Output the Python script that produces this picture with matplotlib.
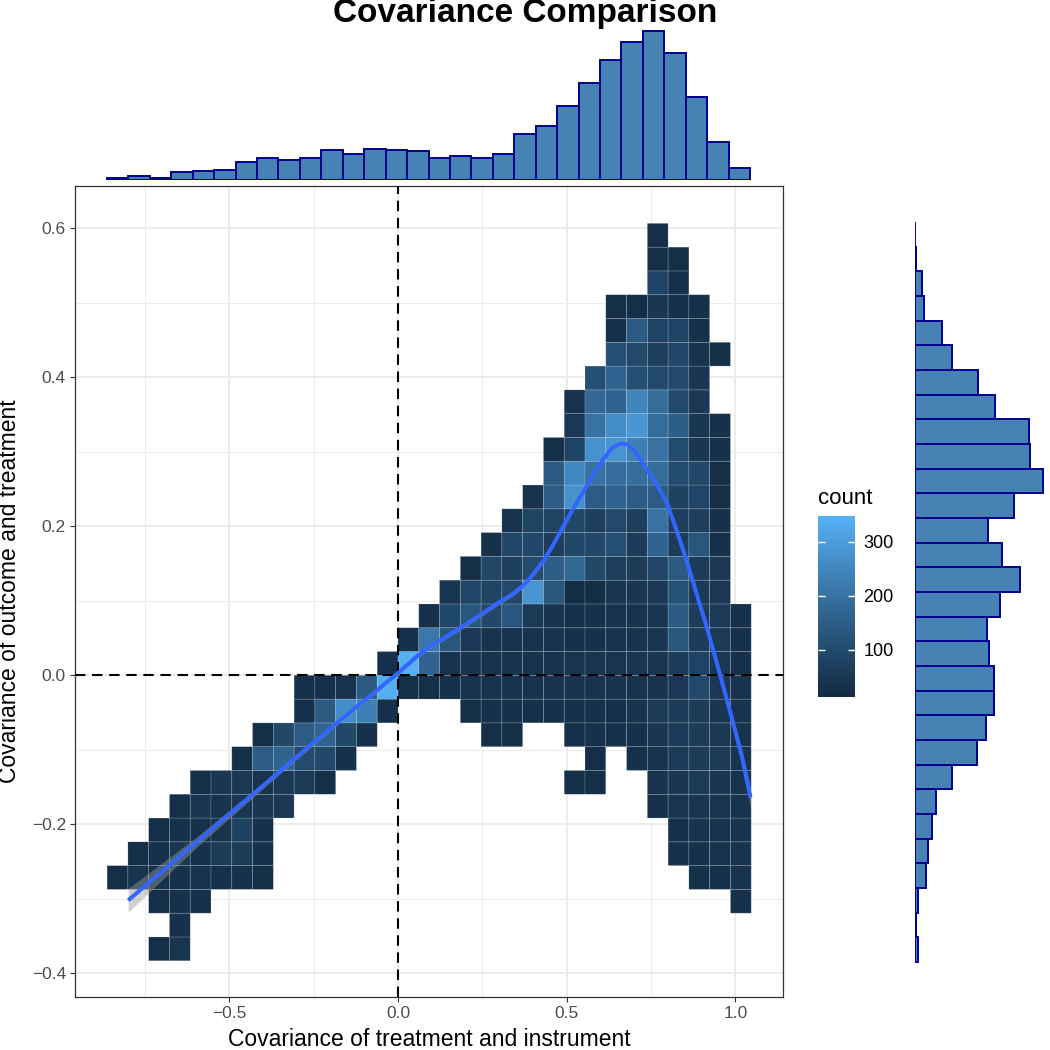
import numpy as np
import matplotlib
matplotlib.use("Agg")
import matplotlib.pyplot as plt
from matplotlib.colors import ListedColormap, Normalize
from matplotlib.cm import ScalarMappable

plt.rcParams['font.family'] = ['Liberation Sans', 'DejaVu Sans']

# ---- data ----
# 2d bins: cell (row j, col i) spans x in [i*bin_w, (i+1)*bin_w], y in [j*bin_h, (j+1)*bin_h]
bin_w = 0.0616
bin_h = 0.03193
col_lo, col_hi = -14, 16
row_lo, row_hi = -12, 18
# (row, first col, counts)
bin_rows = [
    (18, 12, [25]),
    (17, 12, [25, 25]),
    (16, 12, [80, 30]),
    (15, 10, [25, 25, 45, 30, 30]),
    (14, 10, [30, 140, 80, 80, 30]),
    (13, 10, [110, 95, 65, 90, 35, 25]),
    (12, 9, [110, 165, 110, 95, 95, 45]),
    (11, 8, [35, 175, 165, 245, 185, 95, 50]),
    (10, 8, [50, 200, 265, 285, 185, 150, 45, 30]),
    (9, 7, [25, 80, 275, 280, 235, 200, 100, 45, 30]),
    (8, 7, [140, 250, 200, 190, 190, 185, 100, 90, 25]),
    (7, 6, [35, 145, 275, 145, 165, 145, 145, 75, 85, 25]),
    (6, 5, [35, 78, 78, 90, 65, 95, 67, 200, 67, 67, 30]),
    (5, 4, [30, 90, 90, 60, 90, 90, 110, 60, 165, 60, 128, 30]),
    (4, 3, [25, 90, 67, 100, 150, 172, 90, 65, 60, 85, 138, 60, 50]),
    (3, 2, [45, 85, 78, 95, 280, 128, 20, 20, 45, 45, 50, 115, 55, 50]),
    (2, 1, [30, 90, 128, 90, 128, 55, 35, 30, 30, 35, 35, 40, 138, 60, 55, 30]),
    (1, 0, [30, 213, 128, 50, 35, 35, 35, 35, 30, 30, 35, 35, 45, 128, 60, 55, 30]),
    (0, -1, [30, 345, 165, 35, 35, 35, 35, 35, 35, 40, 40, 40, 45, 45, 60, 80, 50, 30]),
    (-1, -5, [30, 30, 35, 138, 340, 25, 25, 30, 35, 35, 35, 35, 35, 35, 35, 35, 35, 35,
              50, 95, 50, 35]),
    (-2, -5, [30, 138, 263, 233, 30]),
    (-2, 3, [25, 30, 30, 30, 30, 30, 30, 30, 35, 55, 60, 60, 45, 35]),
    (-3, -7, [25, 90, 145, 165, 90, 30]),
    (-3, 4, [25, 25]),
    (-3, 8, [25, 30, 30, 30, 45, 55, 60, 50, 35]),
    (-4, -8, [25, 145, 165, 100, 90, 30]),
    (-4, 9, [25]),
    (-4, 11, [30, 35, 55, 60, 55, 35]),
    (-5, -10, [25, 45, 50, 35, 50, 55, 25]),
    (-5, 8, [25, 25]),
    (-5, 12, [35, 45, 55, 45, 35]),
    (-6, -11, [25, 45, 35, 45, 45, 50]),
    (-6, 12, [30, 40, 40, 40, 35]),
    (-7, -12, [25, 30, 30, 35, 75, 30]),
    (-7, 13, [30, 35, 35, 35]),
    (-8, -13, [25, 30, 45, 30, 60, 60, 30]),
    (-8, 13, [30, 30, 35, 35]),
    (-9, -14, [25, 40, 30, 30, 35, 30, 30, 25]),
    (-9, 14, [30, 30, 35]),
    (-10, -12, [25, 30, 30]),
    (-10, 16, [30]),
    (-11, -11, [30]),
    (-12, -12, [25, 40]),
]
count_min, count_max = 12, 348

# smooth fit
smooth_x = [-0.80, -0.60, -0.40, -0.20, -0.10, 0.00, 0.03, 0.06, 0.10, 0.15, 0.20, 0.25,
            0.30, 0.34, 0.37, 0.40, 0.43, 0.46, 0.49, 0.52, 0.55, 0.58, 0.61, 0.635, 0.66,
            0.68, 0.70, 0.72, 0.745, 0.77, 0.797, 0.825, 0.855, 0.885, 0.915, 0.94, 0.965,
            0.99, 1.02, 1.045]
smooth_y = [-0.302, -0.225, -0.148, -0.071, -0.034, 0.003, 0.015, 0.027, 0.040, 0.054,
            0.068, 0.083, 0.098, 0.109, 0.120, 0.135, 0.153, 0.175, 0.200, 0.224, 0.247,
            0.270, 0.291, 0.305, 0.311, 0.310, 0.302, 0.289, 0.272, 0.254, 0.232, 0.196,
            0.155, 0.110, 0.065, 0.025, -0.016, -0.058, -0.110, -0.164]
smooth_se = [0.016, 0.007, 0.004, 0.003, 0.003, 0.003, 0.003, 0.003, 0.003, 0.003,
             0.003, 0.003, 0.003, 0.003, 0.003, 0.003, 0.003, 0.003, 0.003, 0.003,
             0.003, 0.003, 0.003, 0.003, 0.003, 0.003, 0.003, 0.003, 0.003, 0.003,
             0.003, 0.003, 0.003, 0.003, 0.004, 0.004, 0.005, 0.007, 0.010, 0.014]

# marginal histograms (relative counts)
top_range = (-0.863, 1.044)
top_counts = [3, 10, 5, 22, 24, 27, 51, 64, 57, 64, 89, 76, 91, 87, 84, 65, 70, 65, 75,
              137, 159, 219, 288, 356, 411, 443, 377, 245, 113, 33]
right_range = (-0.3848, 0.6085)
right_counts_top_down = [1, 3, 20, 28, 80, 112, 190, 241, 343, 345, 385, 297, 218, 261,
                         316, 256, 215, 222, 236, 236, 212, 186, 112, 62, 50, 38, 34, 10,
                         3, 10]


# ---- ggplot-like gradient (interpolated in Lab) ----
M = np.array([[0.4124, 0.3576, 0.1805], [0.2126, 0.7152, 0.0722], [0.0193, 0.1192, 0.9505]])
WHITE = np.array([0.95047, 1.0, 1.08883])


def hex_to_lab(h):
    rgb = np.array([int(h[k:k + 2], 16) for k in (1, 3, 5)]) / 255
    lin = np.where(rgb <= 0.04045, rgb / 12.92, ((rgb + 0.055) / 1.055) ** 2.4)
    xyz = M @ lin / WHITE
    f = np.where(xyz > 0.008856, np.cbrt(xyz), 7.787 * xyz + 16 / 116)
    return np.array([116 * f[1] - 16, 500 * (f[0] - f[1]), 200 * (f[1] - f[2])])


def lab_to_rgb(lab):
    fy = (lab[0] + 16) / 116
    f = np.array([fy + lab[1] / 500, fy, fy - lab[2] / 200])
    xyz = np.where(f ** 3 > 0.008856, f ** 3, (f - 16 / 116) / 7.787) * WHITE
    lin = np.clip(np.linalg.inv(M) @ xyz, 0, 1)
    rgb = np.where(lin <= 0.0031308, 12.92 * lin, 1.055 * lin ** (1 / 2.4) - 0.055)
    return np.clip(rgb, 0, 1)


lab_lo, lab_hi = hex_to_lab('#132B43'), hex_to_lab('#56B1F7')
cmap = ListedColormap([lab_to_rgb(lab_lo + t * (lab_hi - lab_lo)) for t in np.linspace(0, 1, 256)])
norm = Normalize(count_min, count_max)

# ---- build count grid ----
grid = np.full((row_hi - row_lo + 1, col_hi - col_lo + 1), np.nan)
for j, i0, vals in bin_rows:
    for k, v in enumerate(vals):
        grid[j - row_lo, i0 + k - col_lo] = v
x_edges = np.arange(col_lo, col_hi + 2) * bin_w
y_edges = np.arange(row_lo, row_hi + 2) * bin_h

# ---- layout (pixel boxes in a 1050x1050 figure) ----
W = H = 1050.0


def box(l, t, r, b):
    return [l / W, 1 - b / H, (r - l) / W, (b - t) / H]


fig = plt.figure(figsize=(10.5, 10.5), dpi=100)
xlim = (-0.9576, 1.1414)
ylim = (-0.4318, 0.6568)

ax = fig.add_axes(box(75, 186, 783, 997))
ax.set_xlim(xlim)
ax.set_ylim(ylim)
ax.set_xticks([-0.5, 0.0, 0.5, 1.0])
ax.set_xticklabels(['\u22120.5', '0.0', '0.5', '1.0'])
ax.set_yticks([-0.4, -0.2, 0.0, 0.2, 0.4, 0.6])
ax.set_yticklabels(['\u22120.4', '\u22120.2', '0.0', '0.2', '0.4', '0.6'])
ax.set_xticks([-0.75, -0.25, 0.25, 0.75], minor=True)
ax.set_yticks([-0.3, -0.1, 0.1, 0.3, 0.5], minor=True)
ax.grid(which='major', color='#EBEBEB', linewidth=1.3)
ax.grid(which='minor', color='#EBEBEB', linewidth=0.7)
ax.set_axisbelow(True)
ax.tick_params(which='major', length=3.5, width=0.8, color='#333333', labelsize=12.5,
               labelcolor='#4D4D4D', pad=3)
ax.tick_params(which='minor', length=0)
for s in ax.spines.values():
    s.set_color('#333333')
    s.set_linewidth(0.9)

masked = np.ma.masked_invalid(grid)
ax.pcolor(x_edges, y_edges, masked, cmap=cmap, norm=norm, edgecolors=(1, 1, 1, 0.22),
          linewidth=0.5, zorder=2)
ax.axvline(0, color='black', linestyle=(0, (5, 3.2)), linewidth=1.5, zorder=3)
ax.axhline(0, color='black', linestyle=(0, (5, 3.2)), linewidth=1.5, zorder=3)

sx = np.array(smooth_x)
sy = np.array(smooth_y)
se = np.array(smooth_se)
ax.fill_between(sx, sy - se, sy + se, color='#999999', alpha=0.45, linewidth=0, zorder=4)
ax.plot(sx, sy, color='#3366FF', linewidth=2.9, solid_capstyle='butt',
        solid_joinstyle='round', zorder=5)

# top marginal
ax_top = fig.add_axes(box(75, 28, 783, 179.5), zorder=2)
edges_t = np.linspace(top_range[0], top_range[1], len(top_counts) + 1)
ax_top.bar(edges_t[:-1], top_counts, width=np.diff(edges_t), align='edge', color='#4682B4',
           edgecolor='#00008B', linewidth=1.4)
ax_top.set_xlim(xlim)
ax_top.set_ylim(0, 452)
ax_top.axis('off')

# right marginal
ax_r = fig.add_axes(box(915, 186, 1050, 997))
right_counts = right_counts_top_down[::-1]
edges_r = np.linspace(right_range[0], right_range[1], len(right_counts) + 1)
ax_r.barh(edges_r[:-1], right_counts, height=np.diff(edges_r), align='edge', color='#4682B4',
          edgecolor='#00008B', linewidth=1.4)
ax_r.set_ylim(ylim)
ax_r.set_xlim(0, 405)
ax_r.axis('off')

# colorbar
cax = fig.add_axes(box(818, 516, 855, 697))
cb = fig.colorbar(ScalarMappable(norm=norm, cmap=cmap), cax=cax, ticks=[100, 200, 300])
cb.outline.set_visible(False)
cax.tick_params(direction='in', color='white', length=5, width=1.0, left=True, right=True,
                labelleft=False, labelright=True, labelsize=13, labelcolor='black', pad=6)
fig.text(818 / W, 1 - 498 / H, 'count', fontsize=16, ha='left', va='center')

# titles
fig.text(525 / W, 1 - 22 / H, 'Covariance Comparison', fontsize=24, fontweight='bold',
         ha='center', va='baseline', zorder=1)
fig.text(429 / W, 1 - 1046 / H, 'Covariance of treatment and instrument', fontsize=16.5,
         ha='center', va='baseline')
fig.text(10 / W, 1 - 591 / H, 'Covariance of outcome and treatment', fontsize=16.5,
         ha='center', va='center', rotation=90)

fig.savefig('out.png', dpi=100)
